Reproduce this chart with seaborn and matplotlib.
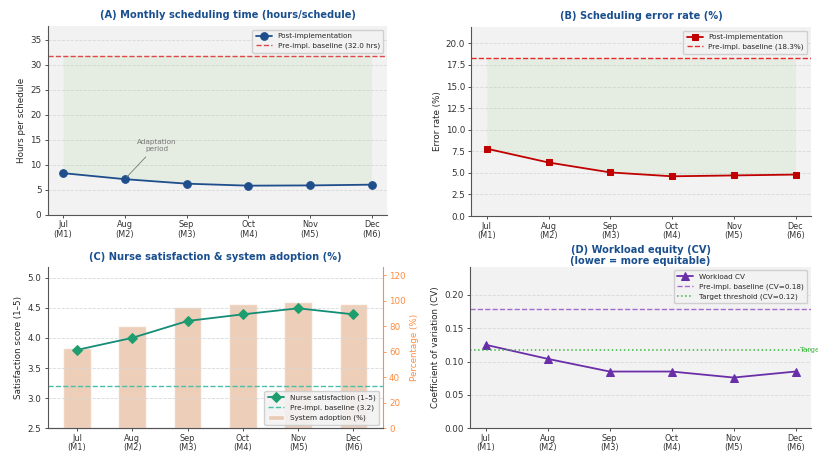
import matplotlib
matplotlib.use("Agg")
import matplotlib.pyplot as plt
import seaborn as sns
import pandas as pd
import numpy as np

months = ["Jul", "Aug", "Sep", "Oct", "Nov", "Dec"]
month_ids = ["M1", "M2", "M3", "M4", "M5", "M6"]
tick_labels = [f"{m}\n({i})" for m, i in zip(months, month_ids)]

sched_hours = [8.3, 7.1, 6.2, 5.8, 5.85, 6.0]
sched_baseline = 31.8
error_rate = [7.8, 6.2, 5.05, 4.6, 4.7, 4.8]
error_baseline = 18.3
satisfaction = [3.8, 4.0, 4.28, 4.39, 4.49, 4.39]
satisfaction_baseline = 3.2
adoption = [63, 80, 95, 97, 99, 97]
workload_cv = [0.125, 0.104, 0.085, 0.085, 0.076, 0.085]
cv_baseline = 0.179
cv_target = 0.117

sns.set_theme(style="ticks")
plt.rcParams.update({
    "font.family": ["DejaVu Sans"],
    "axes.facecolor": "#f2f2f2",
    "axes.edgecolor": "#555555",
    "axes.linewidth": 0.8,
    "xtick.labelsize": 5.9,
    "ytick.labelsize": 6.3,
    "xtick.major.size": 2.5,
    "ytick.major.size": 2.5,
    "xtick.major.width": 0.6,
    "ytick.major.width": 0.6,
    "xtick.major.pad": 1.5,
    "ytick.major.pad": 2,
    "xtick.color": "#333333",
    "ytick.color": "#333333",
})

df = pd.DataFrame({
    "x": np.arange(len(months)),
    "hours": sched_hours,
    "error": error_rate,
    "sat": satisfaction,
    "adopt": adoption,
    "cv": workload_cv,
})

fig = plt.figure(figsize=(8.18, 4.51), dpi=100)
W, H = 818, 451
def pos(l, r, t, b):
    return [l / W, 1 - b / H, (r - l) / W, (b - t) / H]

axA = fig.add_axes(pos(47.7, 387, 26, 214.7))
axB = fig.add_axes(pos(471.3, 811, 27, 216))
axC = fig.add_axes(pos(47.7, 382.7, 266.7, 428.3))
axD = fig.add_axes(pos(470.3, 811, 266.7, 428.3))

title_kw = dict(fontsize=7.1, fontweight="bold", color="#1a4f8f")
leg_kw = dict(fontsize=5.2, frameon=True, framealpha=0.9, edgecolor="#cccccc",
              borderpad=0.5, handlelength=2.2, labelspacing=0.45)

def style(ax):
    ax.grid(axis="y", linestyle="--", color="#d8d8d8", linewidth=0.6)
    ax.grid(axis="x", visible=False)
    ax.set_axisbelow(True)
    for s in ["top", "right"]:
        ax.spines[s].set_visible(False)
    ax.set_xticks(range(len(months)))
    ax.set_xticklabels(tick_labels, fontsize=5.9, linespacing=1.05)
    ax.set_xlabel("")

# (A)
sns.lineplot(data=df, x="x", y="hours", ax=axA, color="#1f4e8c", marker="o",
             markersize=5.5, linewidth=1.3, markeredgecolor="#1f4e8c",
             label="Post-implementation")
axA.axhline(sched_baseline, color="#e04848", linestyle="--", linewidth=1.0,
            label="Pre-impl. baseline (32.0 hrs)")
axA.fill_between(df["x"], df["hours"], sched_baseline, color="#9ccc88", alpha=0.15, linewidth=0)
axA.annotate("Adaptation\nperiod", xy=(1, sched_hours[1]), xytext=(1.52, 13.9),
             fontsize=5.2, color="#777777", ha="center", va="center",
             arrowprops=dict(arrowstyle="-", color="#777777", lw=0.6))
axA.set_ylim(0, 37.7)
axA.set_yticks(range(0, 36, 5))
axA.set_ylabel("Hours per schedule", fontsize=6.3, labelpad=3)
axA.set_title("(A) Monthly scheduling time (hours/schedule)", x=0.53, pad=6, **title_kw)
style(axA)
axA.legend(loc="upper right", **leg_kw)

# (B)
sns.lineplot(data=df, x="x", y="error", ax=axB, color="#c00000", marker="s",
             markersize=5, linewidth=1.3, markeredgecolor="#c00000",
             label="Post-implementation")
axB.axhline(error_baseline, color="#e82a2a", linestyle="--", linewidth=1.0,
            label="Pre-impl. baseline (18.3%)")
axB.fill_between(df["x"], df["error"], error_baseline, color="#9ccc88", alpha=0.15, linewidth=0)
axB.set_ylim(0, 21.9)
axB.set_yticks(np.arange(0, 20.1, 2.5))
axB.set_yticklabels([f"{v:.1f}" for v in np.arange(0, 20.1, 2.5)])
axB.set_ylabel("Error rate (%)", fontsize=6.3, labelpad=3)
axB.set_title("(B) Scheduling error rate (%)", pad=6, **title_kw)
style(axB)
axB.legend(loc="upper right", **leg_kw)

# (C)
axC2 = axC.twinx()
axC2.set_facecolor("#f2f2f2")
axC.set_zorder(axC2.get_zorder() + 1)
axC.patch.set_visible(False)
sns.barplot(data=df, x="x", y="adopt", ax=axC2, color="#f2b48c", alpha=0.68,
            width=0.5, label="System adoption (%)", native_scale=True)
axC2.set_ylim(0, 126.5)
axC2.set_yticks(range(0, 121, 20))
axC2.set_ylabel("Percentage (%)", fontsize=6.3, color="#ff8c40", labelpad=3)
axC2.tick_params(axis="y", colors="#ff8c40", labelsize=6.3)
axC2.spines["right"].set_color("#ff8c40")
axC2.spines["top"].set_visible(False)
axC2.spines["left"].set_visible(False)
axC2.grid(False)
axC2.set_xlabel("")
sns.lineplot(data=df, x="x", y="sat", ax=axC, color="#138d75", marker="D",
             markersize=5, linewidth=1.3, markerfacecolor="#1e9e6e",
             markeredgecolor="#1e9e6e", label="Nurse satisfaction (1\u20135)")
axC.axhline(satisfaction_baseline, color="#48c0a8", linestyle="--", linewidth=1.0,
            label="Pre-impl. baseline (3.2)")
axC.set_ylim(2.5, 5.18)
axC.set_yticks(np.arange(2.5, 5.01, 0.5))
axC.set_ylabel("Satisfaction score (1\u20135)", fontsize=6.3, labelpad=3)
axC.set_title("(C) Nurse satisfaction & system adoption (%)", pad=5, **title_kw)
style(axC)
axC.set_xlim(-0.53, 5.53)
axC2.set_xlim(-0.53, 5.53)
h1, l1 = axC.get_legend_handles_labels()
h2, l2 = axC2.get_legend_handles_labels()
if axC2.get_legend():
    axC2.get_legend().remove()
axC.legend(h1 + h2, l1 + l2, loc="lower right", **leg_kw)

# (D)
sns.lineplot(data=df, x="x", y="cv", ax=axD, color="#6a2fa8", marker="^",
             markersize=5.5, linewidth=1.3, markeredgecolor="#6a2fa8",
             label="Workload CV")
axD.axhline(cv_baseline, color="#a56ad0", linestyle="--", linewidth=1.0,
            label="Pre-impl. baseline (CV=0.18)")
axD.axhline(cv_target, color="#3cb83c", linestyle=":", linewidth=1.1,
            label="Target threshold (CV=0.12)")
axD.text(5.07, cv_target + 0.001, "Target", fontsize=5.2, color="#3cb83c",
         ha="left", va="center")
axD.set_ylim(0, 0.242)
axD.set_yticks(np.arange(0, 0.201, 0.05))
axD.set_yticklabels([f"{v:.2f}" for v in np.arange(0, 0.201, 0.05)])
axD.set_ylabel("Coefficient of variation (CV)", fontsize=6.3, labelpad=3)
axD.set_title("(D) Workload equity (CV)\n(lower = more equitable)", linespacing=1.1,
              pad=2, **title_kw)
style(axD)
axD.legend(loc="upper right", **leg_kw)

fig.savefig("out.png", dpi=100)
